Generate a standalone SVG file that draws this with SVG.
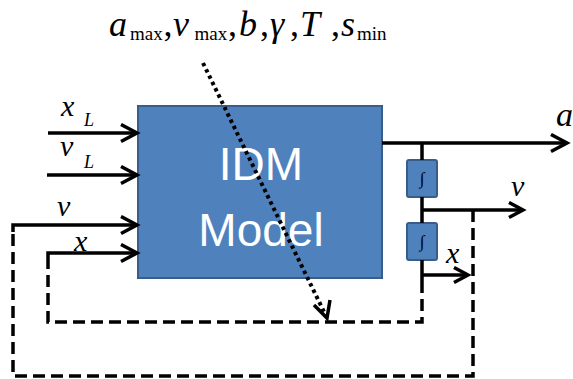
<svg xmlns="http://www.w3.org/2000/svg" width="573" height="379" viewBox="0 0 573 379">
<style>
.blk{fill:#4F81BD;stroke:#385D8A;stroke-width:2}
.w{stroke:#000;stroke-width:3.5;fill:none}
.d{stroke:#000;stroke-width:3.5;fill:none;stroke-dasharray:12 6}
.dot{stroke:#000;stroke-width:4;fill:none;stroke-dasharray:3.5 3.5}
.m{font-family:"Liberation Serif",serif;font-style:italic;fill:#000}
.s{font-family:"Liberation Serif",serif;fill:#000}
.lbl{font-family:"Liberation Sans",Arial,sans-serif;fill:#fff;font-size:46px;text-anchor:middle}
</style>
<defs>
<marker id="ah" markerWidth="22" markerHeight="22" refX="18" refY="10" orient="auto" markerUnits="userSpaceOnUse">
<path d="M2,1.5 L18,10 L2,18.5" fill="none" stroke="#000" stroke-width="3.5"/>
</marker>
<marker id="ah2" markerWidth="20" markerHeight="20" refX="16" refY="9" orient="auto" markerUnits="userSpaceOnUse">
<path d="M2,1.5 L16,9 L2,16.5" fill="none" stroke="#000" stroke-width="3.5"/>
</marker>
</defs>
<g id="params">
<text class="m" font-size="36" x="109" y="36">a</text>
<text class="s" font-size="19" x="130" y="40">max</text>
<text class="s" font-size="36" x="163.5" y="36">,</text>
<text class="m" font-size="36" x="173" y="36">v</text>
<text class="s" font-size="19" x="194.5" y="40">max</text>
<text class="s" font-size="36" x="228" y="36">,</text>
<text class="m" font-size="36" x="239" y="36">b</text>
<text class="s" font-size="36" x="260" y="36">,</text>
<text class="m" font-size="36" x="270" y="36">γ</text>
<text class="s" font-size="36" x="290" y="36">,</text>
<text class="m" font-size="36" x="300" y="36">T</text>
<text class="s" font-size="36" x="331" y="36">,</text>
<text class="m" font-size="36" x="341" y="36">s</text>
<text class="s" font-size="19" x="357" y="40">min</text>
</g>
<g id="idm">
<rect class="blk" x="138" y="106" width="244" height="172"/>
<text class="lbl" x="261" y="180">IDM</text>
<text class="lbl" x="261" y="246">Model</text>
</g>
<g id="int1">
<rect class="blk" x="407" y="160" width="30" height="37" rx="2" stroke-width="1.5"/>
<text class="s" font-size="17" x="422" y="184" text-anchor="middle" fill="#222">∫</text>
</g>
<g id="int2">
<rect class="blk" x="407" y="223" width="30" height="37" rx="2" stroke-width="1.5"/>
<text class="s" font-size="17" x="422" y="247" text-anchor="middle" fill="#222">∫</text>
</g>
<g id="connectors">
<line class="w" x1="48" y1="133" x2="137" y2="133" marker-end="url(#ah)"/>
<line class="w" x1="47" y1="175" x2="137" y2="175" marker-end="url(#ah)"/>
<path class="w" d="M13,232 V225 H137" marker-end="url(#ah)"/>
<path class="w" d="M48,260 V253 H137" marker-end="url(#ah)"/>
<line class="w" x1="382" y1="143" x2="567" y2="143" marker-end="url(#ah)"/>
<line class="w" x1="422" y1="143" x2="422" y2="160"/>
<line class="w" x1="422" y1="197" x2="422" y2="223"/>
<line class="w" x1="422" y1="260" x2="422" y2="281"/>
<line class="w" x1="422" y1="210" x2="523" y2="210" marker-end="url(#ah2)"/>
<line class="w" x1="422" y1="275" x2="468" y2="275" marker-end="url(#ah2)"/>
<path class="d" d="M422,281 V322 H48 V260"/>
<path class="d" d="M473,210 V376 H13 V232"/>
<line class="dot" x1="203" y1="63" x2="326" y2="316"/>
<path d="M314,305 L327,318 L330,300" fill="none" stroke="#000" stroke-width="3.5"/>
</g>
<g id="labels">
<text class="m" font-size="30" x="61" y="116">x</text>
<text class="m" font-size="18" x="84" y="126">L</text>
<text class="m" font-size="30" x="60" y="156">v</text>
<text class="m" font-size="18" x="84" y="168">L</text>
<text class="m" font-size="30" x="57" y="216">v</text>
<text class="m" font-size="30" x="74" y="251">x</text>
<text class="m" font-size="34" x="556" y="126">a</text>
<text class="m" font-size="30" x="511" y="196">v</text>
<text class="m" font-size="30" x="446" y="263">x</text>
</g>
</svg>
